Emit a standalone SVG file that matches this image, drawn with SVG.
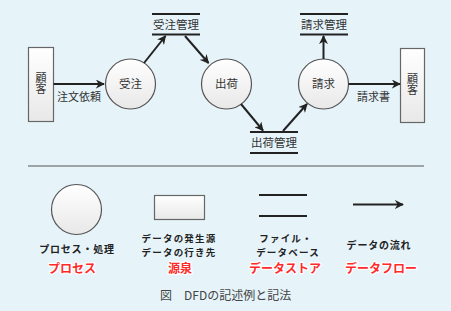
<svg xmlns="http://www.w3.org/2000/svg" width="451" height="311" viewBox="0 0 451 311">
<defs>
<linearGradient id="g" x1="0" y1="0" x2="0" y2="1">
<stop offset="0" stop-color="#ffffff"/>
<stop offset="1" stop-color="#e8e8e8"/>
</linearGradient>
<marker id="ah" viewBox="0 0 10 10" refX="9" refY="5" markerWidth="4.5" markerHeight="4.5" orient="auto" markerUnits="strokeWidth">
<path d="M0,0 L10,5 L0,10 L3,5 Z" fill="#222"/>
</marker>
<style>
.proc{fill:url(#g);stroke:#555;stroke-width:1.2}
.ext{fill:url(#g);stroke:#666;stroke-width:1.2}
.store{stroke:#222;stroke-width:2;fill:none}
.flow{stroke:#222;stroke-width:2;fill:none;marker-end:url(#ah)}
.lbl{font-family:"Noto Sans CJK JP","Noto Sans",sans-serif;font-size:11.5px;fill:#333;text-anchor:middle}
.vert{font-family:"Noto Sans CJK JP","Noto Sans",sans-serif;font-size:11px;fill:#333;writing-mode:vertical-rl;text-anchor:middle}
.fl{font-family:"Noto Sans CJK JP","Noto Sans",sans-serif;font-size:11px;fill:#333}
.leg{font-family:"Noto Sans CJK JP","Noto Sans",sans-serif;font-size:10px;font-weight:bold;fill:#222;text-anchor:middle;letter-spacing:0.8px}
.leg2{font-family:"Noto Sans CJK JP","Noto Sans",sans-serif;font-size:9.5px;font-weight:bold;fill:#222;text-anchor:middle;letter-spacing:1.2px}
.red{font-family:"Noto Sans CJK JP","Noto Sans",sans-serif;font-size:12px;font-weight:bold;fill:#ff2a2a;text-anchor:middle;stroke:#fff;stroke-width:2.5;paint-order:stroke;stroke-linejoin:round}
.cap{font-family:"Noto Sans CJK JP","Noto Sans",sans-serif;font-size:12px;fill:#444}
</style>
</defs>
<rect width="451" height="311" fill="#e6f4fa"/>

<g id="customer-left">
<rect class="ext" x="28.5" y="47.5" width="25" height="74"/>
<text class="vert" x="41" y="83">顧客</text>
</g>
<g id="juchu">
<circle class="proc" cx="130.5" cy="84" r="25"/>
<text class="lbl" x="130.5" y="88">受注</text>
</g>
<g id="juchu-kanri">
<line class="store" x1="152" y1="14" x2="200" y2="14"/>
<line class="store" x1="152" y1="34.5" x2="200" y2="34.5"/>
<text class="lbl" x="176" y="29">受注管理</text>
</g>
<g id="shukka">
<circle class="proc" cx="226.5" cy="84" r="25"/>
<text class="lbl" x="226.5" y="88">出荷</text>
</g>
<g id="shukka-kanri">
<line class="store" x1="250" y1="132" x2="298" y2="132"/>
<line class="store" x1="250" y1="153" x2="298" y2="153"/>
<text class="lbl" x="274" y="147">出荷管理</text>
</g>
<g id="seikyu">
<circle class="proc" cx="323.5" cy="84" r="25"/>
<text class="lbl" x="323.5" y="88">請求</text>
</g>
<g id="seikyu-kanri">
<line class="store" x1="300" y1="14" x2="348" y2="14"/>
<line class="store" x1="300" y1="34.5" x2="348" y2="34.5"/>
<text class="lbl" x="324" y="29">請求管理</text>
</g>
<g id="customer-right">
<rect class="ext" x="400.5" y="48.5" width="24" height="74"/>
<text class="vert" x="412.5" y="84">顧客</text>
</g>

<g id="connectors">
<line class="flow" x1="53.5" y1="84" x2="104" y2="84"/>
<text class="fl" x="57" y="101">注文依頼</text>
<line class="flow" x1="144" y1="63" x2="165.5" y2="36"/>
<line class="flow" x1="185" y1="36" x2="208.5" y2="63"/>
<line class="flow" x1="241" y1="104" x2="263" y2="130.5"/>
<line class="flow" x1="283" y1="131" x2="307" y2="104"/>
<line class="flow" x1="323.5" y1="59" x2="323.5" y2="36"/>
<line class="flow" x1="348.5" y1="84" x2="400" y2="84"/>
<text class="fl" x="357" y="101">請求書</text>
</g>

<line x1="28" y1="166" x2="424" y2="166" stroke="#555" stroke-width="1"/>

<g id="legend-process">
<circle class="proc" cx="76.5" cy="209.5" r="25"/>
<text class="leg" x="77" y="253">プロセス・処理</text>
<text class="red" x="72" y="273">プロセス</text>
</g>
<g id="legend-source">
<rect class="ext" x="154.5" y="195.5" width="50" height="24"/>
<text class="leg2"><tspan x="179" y="242">データの発生源</tspan><tspan x="179" y="255.5">データの行き先</tspan></text>
<text class="red" x="180" y="273">源泉</text>
</g>
<g id="legend-store">
<line class="store" x1="259" y1="195" x2="307" y2="195"/>
<line class="store" x1="259" y1="216" x2="307" y2="216"/>
<text class="leg2"><tspan x="286" y="242">ファイル・</tspan><tspan x="288" y="255.5">データベース</tspan></text>
<text class="red" x="285" y="273">データストア</text>
</g>
<g id="legend-flow">
<line class="flow" x1="353" y1="204.5" x2="403" y2="204.5"/>
<text class="leg" x="379" y="249">データの流れ</text>
<text class="red" x="381" y="273">データフロー</text>
</g>

<text class="cap" x="160" y="300">図　DFDの記述例と記法</text>
</svg>
